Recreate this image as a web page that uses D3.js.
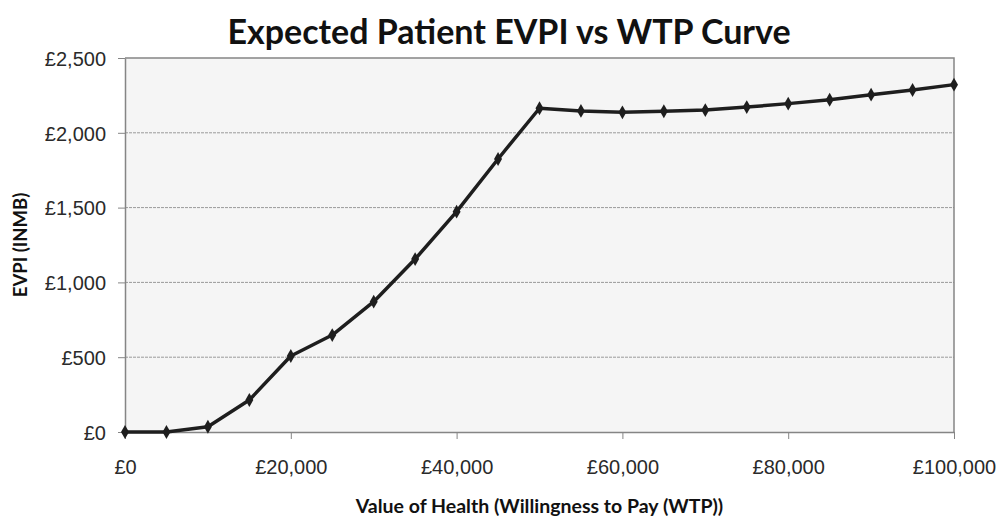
<!DOCTYPE html>
<html>
<head>
<meta charset="utf-8">
<script src="https://cdn.jsdelivr.net/npm/d3@7"></script>
<style>
  body { margin: 0; background: #fff; }
  svg { display: block; font-family: Lato, "Open Sans", sans-serif; }
  .tick-label { font-size: 20px; fill: #2a2a2a; }
</style>
</head>
<body>
<div class="graph-container"></div>
<script>
// willingness to pay (x) and expected EVPI (y)
var wtp = [0, 5000, 10000, 15000, 20000, 25000, 30000, 35000, 40000, 45000, 50000,
  55000, 60000, 65000, 70000, 75000, 80000, 85000, 90000, 95000, 100000];
var evpi = [0, 0, 35, 214, 508, 648, 871, 1156, 1473, 1825, 2164,
  2146, 2137, 2144, 2152, 2172, 2195, 2221, 2255, 2286, 2322];

var xTicks = [0, 20000, 40000, 60000, 80000, 100000];
var yTicks = [0, 500, 1000, 1500, 2000, 2500];

var svgWidth = 996;
var svgHeight = 517;
var plotLeft = 125;
var plotRight = 954;
var plotTop = 58;
var plotBottom = 432;

var fmt = function(d) { return '£' + d3.format(',')(d); };

var svg = d3.select('.graph-container').append('svg')
  .attr('width', svgWidth)
  .attr('height', svgHeight);

var xScale = d3.scaleLinear().domain([0, 100000]).range([plotLeft, plotRight]);
var yScale = d3.scaleLinear().domain([0, 2500]).range([plotBottom, plotTop]);

// plot background
svg.append('rect')
  .attr('x', plotLeft)
  .attr('y', plotTop)
  .attr('width', plotRight - plotLeft)
  .attr('height', plotBottom - plotTop)
  .attr('fill', '#f5f5f5');

// dashed gridlines
svg.selectAll('.grid')
  .data(yTicks.slice(1, -1))
  .enter()
  .append('line')
  .attr('x1', plotLeft)
  .attr('x2', plotRight)
  .attr('y1', function(d) { return yScale(d); })
  .attr('y2', function(d) { return yScale(d); })
  .attr('stroke', '#9a9a9a')
  .attr('stroke-width', 1)
  .attr('stroke-dasharray', '3,1');

// plot border (top and right)
svg.append('path')
  .attr('d', 'M' + plotLeft + ',' + plotTop + 'H' + plotRight + 'V' + plotBottom)
  .attr('fill', 'none')
  .attr('stroke', '#858585')
  .attr('stroke-width', 1.5);

// axes
var xAxis = d3.axisBottom(xScale).tickValues(xTicks).tickSize(7).tickSizeOuter(0).tickFormat(fmt);
var gx = svg.append('g')
  .attr('transform', 'translate(0,' + plotBottom + ')')
  .call(xAxis);
gx.select('.domain').attr('stroke', '#858585').attr('stroke-width', 1.5);
gx.selectAll('.tick line').attr('stroke', '#858585');
gx.selectAll('.tick text')
  .attr('class', 'tick-label')
  .attr('y', 28)
  .attr('dy', '0.71em');

var yAxis = d3.axisLeft(yScale).tickValues(yTicks).tickSize(7).tickSizeOuter(0).tickFormat(fmt);
var gy = svg.append('g')
  .attr('transform', 'translate(' + plotLeft + ',0)')
  .call(yAxis);
gy.select('.domain').attr('stroke', '#858585').attr('stroke-width', 1.5);
gy.selectAll('.tick line').attr('stroke', '#858585');
gy.selectAll('.tick text')
  .attr('class', 'tick-label')
  .attr('x', -19)
  .attr('dy', '0.36em');

// the curve
var line = d3.line()
  .x(function(d, i) { return xScale(wtp[i]); })
  .y(function(d) { return yScale(d); });

svg.append('path')
  .datum(evpi)
  .attr('d', line)
  .attr('fill', 'none')
  .attr('stroke', '#1e1e1e')
  .attr('stroke-width', 3.5)
  .attr('stroke-linejoin', 'round');

// diamond markers
svg.selectAll('.marker')
  .data(evpi)
  .enter()
  .append('path')
  .attr('d', d3.symbol().type(d3.symbolDiamond).size(55))
  .attr('transform', function(d, i) {
    return 'translate(' + xScale(wtp[i]) + ',' + yScale(d) + ')';
  })
  .attr('fill', '#1e1e1e');

// chart title
svg.append('text')
  .attr('x', 509)
  .attr('y', 44)
  .style('text-anchor', 'middle')
  .style('font-size', '34px')
  .style('font-weight', 'bold')
  .attr('fill', '#111')
  .text('Expected Patient EVPI vs WTP Curve');

// x-axis label
svg.append('text')
  .attr('x', (plotLeft + plotRight) / 2)
  .attr('y', 513)
  .style('text-anchor', 'middle')
  .style('font-size', '19.5px')
  .style('font-weight', 'bold')
  .attr('fill', '#111')
  .text('Value of Health (Willingness to Pay (WTP))');

// y-axis label
svg.append('text')
  .attr('x', 0 - (plotTop + plotBottom) / 2)
  .attr('y', 27)
  .attr('transform', 'rotate(-90)')
  .style('text-anchor', 'middle')
  .style('font-size', '18.5px')
  .style('font-weight', 'bold')
  .attr('fill', '#111')
  .text('EVPI (INMB)');
</script>
</body>
</html>
